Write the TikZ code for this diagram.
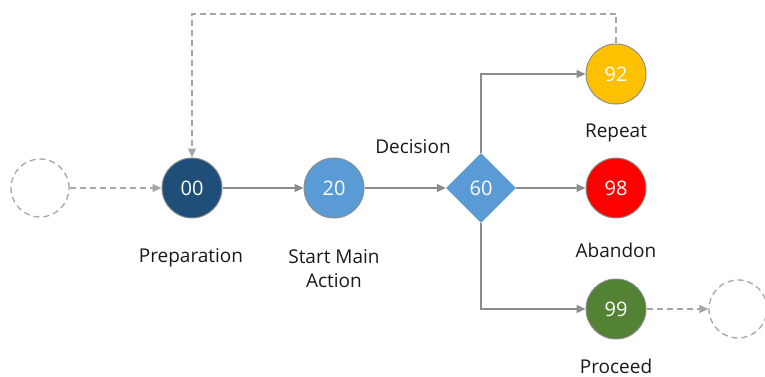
\documentclass[tikz,border=0pt]{standalone}
\usepackage{fontspec}
\setmainfont{Open Sans}
\usetikzlibrary{shapes.geometric,arrows.meta}
\definecolor{cdark}{HTML}{1F4E79}
\definecolor{clight}{HTML}{5B9BD5}
\definecolor{cyel}{HTML}{FFC000}
\definecolor{cred}{HTML}{FF0000}
\definecolor{cgreen}{HTML}{548235}
\definecolor{cline}{HTML}{8C8C8C}
\definecolor{cdash}{HTML}{A6A6A6}
\definecolor{ctext}{HTML}{1A1A1A}
\tikzset{
  stepnode/.style={circle, minimum size=60pt, inner sep=0pt, draw=cline, line width=1pt, text=white, font=\fontsize{20}{22}\selectfont},
  ghost/.style={circle, minimum size=58pt, inner sep=0pt, draw=cdash, dashed, dash pattern=on 6pt off 4pt, line width=1.3pt},
  decnode/.style={diamond, minimum width=70pt, minimum height=70pt, inner sep=0pt, fill=clight, text=white, font=\fontsize{20}{22}\selectfont},
  lbl/.style={text=ctext, font=\fontsize{19}{24}\selectfont, align=center},
  conn/.style={draw=cline, line width=1.3pt, -{Triangle[length=9pt,width=8pt]}},
  dconn/.style={draw=cdash, line width=1.3pt, dash pattern=on 6pt off 4pt, -{Triangle[length=9pt,width=8pt]}},
}
\begin{document}
\begin{tikzpicture}[x=1pt,y=-1pt]
\useasboundingbox (0,0) rectangle (765,377);
\node[ghost] (in) at (40,188) {};
\node[stepnode, fill=cdark] (n00) at (192,188) {00};
\node[stepnode, fill=clight] (n20) at (334,188) {20};
\node[decnode] (n60) at (481,188) {60};
\node[stepnode, fill=cyel] (n92) at (616,74) {92};
\node[stepnode, fill=cred] (n98) at (616,188) {98};
\node[stepnode, fill=cgreen] (n99) at (616,309) {99};
\node[ghost] (out) at (738,309) {};
\node[lbl] (l00) at (191,258) {Preparation};
\node[lbl] (l20) at (334,269) {Start Main\\Action};
\node[lbl] (l60) at (413,147) {Decision};
\node[lbl] (l92) at (616,133) {Repeat};
\node[lbl] (l98) at (616,250) {Abandon};
\node[lbl] (l99) at (616,366) {Proceed};
\coordinate (tr) at (616,14);
\coordinate (tl) at (192,14);
\draw[dconn] (in) -- (n00);
\draw[conn] (n00) -- (n20);
\draw[conn] (n20) -- (n60);
\draw[conn] (n60.north) |- (n92);
\draw[conn] (n60) -- (n98);
\draw[conn] (n60.south) |- (n99);
\draw[dconn] (n99) -- (out);
\draw[dconn] (n92.north) -- (tr) -- (tl) -- (n00.north);
\end{tikzpicture}
\end{document}
